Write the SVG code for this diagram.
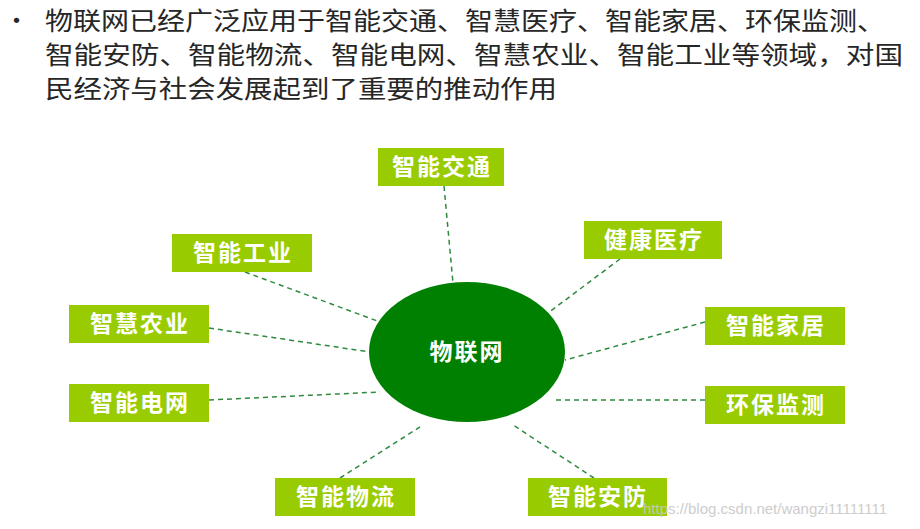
<svg xmlns="http://www.w3.org/2000/svg" width="920" height="529" viewBox="0 0 920 529">
<style>
.h{font-family:"Noto Sans CJK SC","Liberation Sans",sans-serif;font-size:25px;fill:#262626}
.b rect{fill:#99cc00}
.b text{font-family:"Noto Sans CJK SC",sans-serif;font-size:23px;font-weight:bold;fill:#fff;text-anchor:middle;letter-spacing:2px}
#edges line{stroke:#2e8b3e;stroke-width:1.5;stroke-dasharray:5,4}
</style>
<rect width="920" height="529" fill="#fff"/>
<text class="h" x="4" y="30">•</text>
<text class="h" x="45" y="30" textLength="840" lengthAdjust="spacingAndGlyphs">物联网已经广泛应用于智能交通、智慧医疗、智能家居、环保监测、</text>
<text class="h" x="45" y="64" textLength="858" lengthAdjust="spacingAndGlyphs">智能安防、智能物流、智能电网、智慧农业、智能工业等领域，对国</text>
<text class="h" x="45" y="98" textLength="512" lengthAdjust="spacingAndGlyphs">民经济与社会发展起到了重要的推动作用</text>
<g id="edges">
<line x1="444" y1="186" x2="453" y2="283"/>
<line x1="620" y1="259" x2="548" y2="313"/>
<line x1="245" y1="272" x2="380" y2="322"/>
<line x1="209" y1="328" x2="370" y2="352"/>
<line x1="705" y1="322" x2="565" y2="360"/>
<line x1="209" y1="400" x2="380" y2="392"/>
<line x1="705" y1="400" x2="553" y2="400"/>
<line x1="340" y1="478" x2="423" y2="425"/>
<line x1="594" y1="478" x2="513" y2="425"/>
</g>
<g id="center"><ellipse cx="467" cy="352" rx="98" ry="70" fill="#008000"/>
<text x="467" y="360" font-family="Noto Sans CJK SC,sans-serif" font-size="23" font-weight="bold" fill="#fff" text-anchor="middle" letter-spacing="2">物联网</text></g>
<g id="n1" class="b"><rect x="378" y="148" width="126" height="38"/><text x="442" y="175">智能交通</text></g>
<g id="n2" class="b"><rect x="584" y="221" width="138" height="38"/><text x="654" y="248">健康医疗</text></g>
<g id="n3" class="b"><rect x="172" y="234" width="140" height="38"/><text x="243" y="261">智能工业</text></g>
<g id="n4" class="b"><rect x="69" y="305" width="140" height="38"/><text x="140" y="332">智慧农业</text></g>
<g id="n5" class="b"><rect x="705" y="307" width="140" height="38"/><text x="776" y="334">智能家居</text></g>
<g id="n6" class="b"><rect x="69" y="384" width="140" height="38"/><text x="140" y="411">智能电网</text></g>
<g id="n7" class="b"><rect x="705" y="386" width="140" height="38"/><text x="776" y="413">环保监测</text></g>
<g id="n8" class="b"><rect x="275" y="478" width="140" height="38"/><text x="346" y="505">智能物流</text></g>
<g id="n9" class="b"><rect x="528" y="478" width="139" height="38"/><text x="598" y="505">智能安防</text></g>
<text x="643" y="514" font-family="Liberation Sans,sans-serif" font-size="15" fill="#c8c8c8" opacity="0.9">https://blog.csdn.net/wangzi11111111</text>
</svg>
